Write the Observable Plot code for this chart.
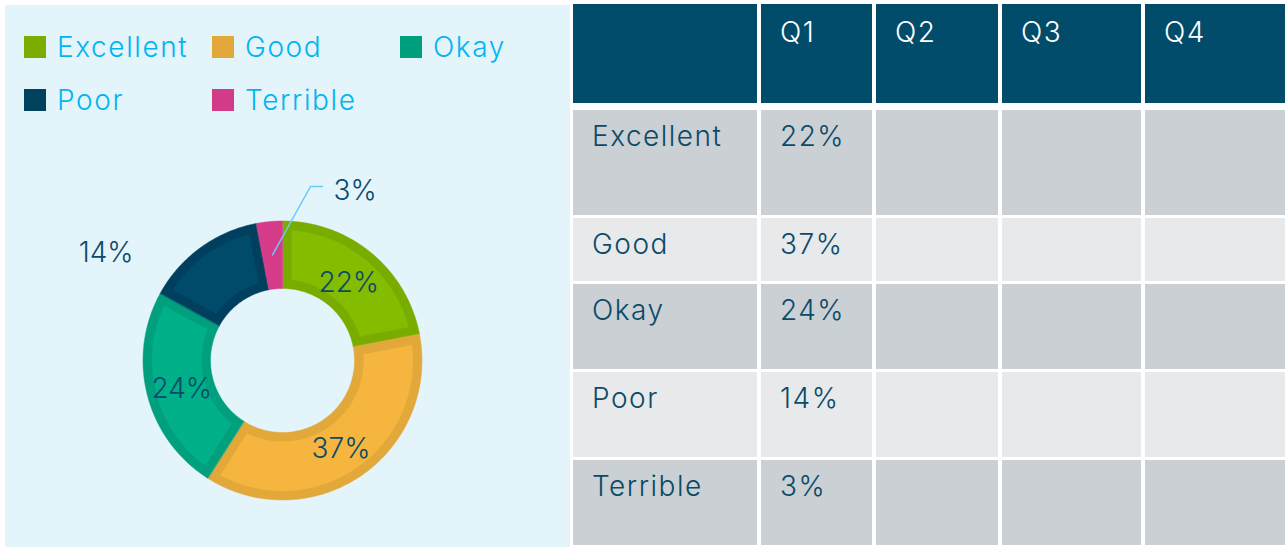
<!DOCTYPE html>
<html>
<head>
<meta charset="utf-8">
<script src="https://cdn.jsdelivr.net/npm/d3@7"></script>
<script src="https://cdn.jsdelivr.net/npm/@observablehq/plot@0.6"></script>
<style>
  html, body { margin: 0; padding: 0; background: #ffffff; }
  body { width: 1287px; height: 548px; position: relative; overflow: hidden; font-family: "Inter", "Lato", sans-serif; }
  #panel { position: absolute; left: 5px; top: 5px; width: 565px; height: 542px; background: #E4F4FB; }
  #legend { position: relative; height: 125px; }
  #legend .items { position: absolute; left: 19px; top: 31px; width: 600px; display: flex; flex-wrap: wrap; row-gap: 31px; }
  #legend .item { width: 188px; height: 22px; display: flex; align-items: center; }
  #legend .sw { width: 22px; height: 22px; flex: none; }
  #legend .lab { margin-left: 11px; font-size: 28px; line-height: 22px; font-weight: 300; letter-spacing: 1.6px; color: #00B5F1; white-space: nowrap; }
  #chart { position: absolute; left: 0; top: 125px; }
  #table { position: absolute; left: 573px; top: 4px; display: grid;
           grid-template-columns: 184px 111px 122px 139px 140px;
           grid-template-rows: 103px 105px 63px 85px 85px 85px;
           column-gap: 4px; row-gap: 3px; }
  #table .c { box-sizing: border-box; padding: 12px 0 0 19px; font-size: 28px; line-height: 28px; font-weight: 300; letter-spacing: 1.5px; color: #0B4A68; white-space: nowrap; }
  #table .h { background: #024C6B; color: #ffffff; height: 99px; padding-top: 14px; }
  #table .d { background: #CAD0D4; }
  #table .l { background: #E7E9EB; }
</style>
</head>
<body>
<div id="panel">
  <div id="legend"><div class="items"></div></div>
  <div id="chart"></div>
</div>
<div id="table"></div>
<script>
// ---- data ----
const categories = ["Excellent", "Good", "Okay", "Poor", "Terrible"];
const q1Values = [22, 37, 24, 14, 3];
const quarters = ["Q1", "Q2", "Q3", "Q4"];
const sliceColors = ["#84BC00", "#F5B53F", "#00B088", "#004A6A", "#D63B8A"];
const borderColors = ["#78AD00", "#E2A83A", "#00A07E", "#003F5E", "#D63B8A"];
const legendColors = ["#7AAD00", "#E2A83A", "#00A07E", "#00415E", "#D13B87"];

// ---- legend ----
const items = document.querySelector("#legend .items");
categories.forEach((c, i) => {
  const it = document.createElement("div");
  it.className = "item";
  it.innerHTML = `<span class="sw" style="background:${legendColors[i]}"></span><span class="lab">${c}</span>`;
  items.appendChild(it);
});

// ---- donut geometry ----
const W = 565, H = 417, CX = 277, CY = 230;
const R = 139.5, R0 = 72, INSET = 9;
const total = d3.sum(q1Values);
let acc = 0;
const slices = categories.map((c, i) => {
  const a0 = acc / total * 2 * Math.PI;
  acc += q1Values[i];
  const a1 = acc / total * 2 * Math.PI;
  return {c, i, v: q1Values[i], a0, a1};
});
function arc(rad, a0, a1, key, color) {
  const n = Math.max(2, Math.ceil(Math.abs(a1 - a0) / (Math.PI / 180)));
  return d3.range(n + 1).map(k => {
    const a = a0 + (a1 - a0) * k / n;
    return {x: rad * Math.sin(a), y: -rad * Math.cos(a), key, color};
  });
}
const outerPts = [], innerPts = [];
for (const s of slices) {
  const k = "o" + s.i;
  outerPts.push(...arc(R, s.a0, s.a1, k, borderColors[s.i]), ...arc(R0, s.a1, s.a0, k, borderColors[s.i]));
  const Ro = R - INSET, Ri = R0 + INSET;
  const dRo = Math.asin(INSET / Ro), dRi = Math.asin(INSET / Ri);
  if (s.a1 - s.a0 > 2 * dRi + 0.02) {
    const k2 = "i" + s.i;
    innerPts.push(...arc(Ro, s.a0 + dRo, s.a1 - dRo, k2, sliceColors[s.i]), ...arc(Ri, s.a1 - dRi, s.a0 + dRi, k2, sliceColors[s.i]));
  }
}

// label placement (inside at mid-angle, or outside for small slices)
const labels = slices.map(s => {
  const mid = (s.a0 + s.a1) / 2;
  let x, y, anchor = "middle";
  if (s.c === "Poor") { const a = 302 * Math.PI / 180; x = 208 * Math.sin(a); y = -208 * Math.cos(a); }
  else if (s.c === "Terrible") { x = 51; y = -172; anchor = "start"; }
  else { x = 104 * Math.sin(mid); y = -104 * Math.cos(mid); }
  return {x, y, anchor, text: s.v + "%"};
});
const tSlice = slices[4];
const tMid = (tSlice.a0 + tSlice.a1) / 2;
const leader = [
  {x: 106 * Math.sin(tMid), y: -106 * Math.cos(tMid)},
  {x: 28, y: -174},
  {x: 40, y: -174}
];

const textStyle = {fontSize: 28, fill: "#0C4A69", fontWeight: 300, fontFamily: "Inter, Lato, sans-serif", letterSpacing: "1px", dy: 3};
const chart = Plot.plot({
  width: W, height: H,
  margin: 0,
  style: {background: "transparent", overflow: "visible"},
  x: {domain: [-CX, W - CX], range: [0, W], axis: null},
  y: {domain: [-CY, H - CY], range: [0, H], axis: null},
  marks: [
    Plot.line(outerPts, {x: "x", y: "y", z: "key", fill: "color", stroke: "color", strokeWidth: 0.5, curve: "linear-closed"}),
    Plot.line(innerPts, {x: "x", y: "y", z: "key", fill: "color", stroke: "none", curve: "linear-closed"}),
    Plot.line(leader, {x: "x", y: "y", stroke: "#66CCF5", strokeWidth: 1.5}),
    Plot.text(labels.filter(d => d.anchor === "middle"), {x: "x", y: "y", text: "text", textAnchor: "middle", ...textStyle}),
    Plot.text(labels.filter(d => d.anchor === "start"), {x: "x", y: "y", text: "text", textAnchor: "start", ...textStyle})
  ]
});
document.getElementById("chart").appendChild(chart);

// ---- table ----
const table = document.getElementById("table");
function cell(text, cls) {
  const d = document.createElement("div");
  d.className = "c " + cls;
  d.textContent = text;
  table.appendChild(d);
}
cell("", "h");
quarters.forEach(q => cell(q, "h"));
categories.forEach((c, i) => {
  const cls = i % 2 === 0 ? "d" : "l";
  cell(c, cls);
  cell(q1Values[i] + "%", cls);
  for (let k = 1; k < quarters.length; k++) cell("", cls);
});
</script>
</body>
</html>
